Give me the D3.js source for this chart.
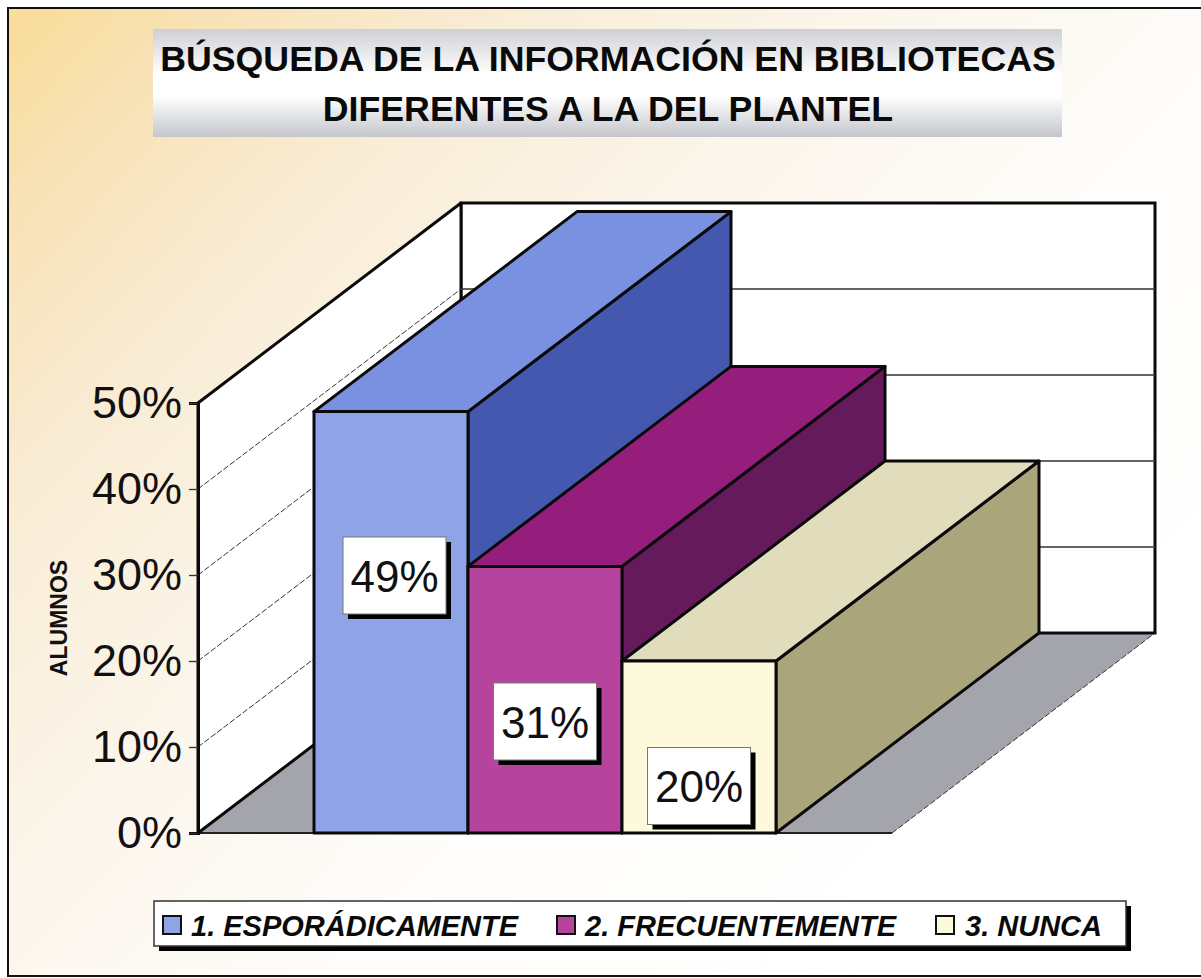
<!DOCTYPE html>
<html><head><meta charset="utf-8">
<script src="https://cdn.jsdelivr.net/npm/d3@7/dist/d3.min.js"></script>
<style>html,body{margin:0;padding:0;background:#fff}svg{display:block}text{font-family:"Liberation Sans",Arial,sans-serif}</style>
</head><body><svg id="c" width="1201" height="978"></svg>
<script>
const titleLines = ["BÚSQUEDA DE LA INFORMACIÓN EN BIBLIOTECAS","DIFERENTES A LA DEL PLANTEL"];
const categories = ["1. ESPORÁDICAMENTE","2. FRECUENTEMENTE","3. NUNCA"];
const values = [49,31,20];
const valueLabels = ["49%","31%","20%"];
const yTicks = [0,10,20,30,40,50];
const axisTitle = "ALUMNOS";
const frontColors = ["#8ea4e6","#b6449f","#fdf9dc"];
const topColors = ["#7a90e0","#951d7c","#e0dcbc"];
const sideColors = ["#4358ae","#651a5c","#aba57c"];

const svg = d3.select("#c");
const defs = svg.append("defs");
const bg = defs.append("linearGradient").attr("id","bg").attr("x1",0).attr("y1",0.05).attr("x2",0.9).attr("y2",0.75);
[[0,"#f8dd9e"],[0.08,"#f8e2b4"],[0.25,"#f8ecd4"],[0.45,"#fbf5ea"],[0.7,"#fefdfb"],[1,"#ffffff"]].forEach(s=>bg.append("stop").attr("offset",s[0]).attr("stop-color",s[1]));
const band = defs.append("linearGradient").attr("id","band").attr("x1",0).attr("y1",0).attr("x2",0).attr("y2",1);
[[0,"#cfd0d4"],[0.42,"#ffffff"],[0.62,"#ffffff"],[1,"#c4c6cc"]].forEach(s=>band.append("stop").attr("offset",s[0]).attr("stop-color",s[1]));
const ink = "#0a0a0a";

// frame (its right side runs off the photographed page)
svg.append("rect").attr("x",8).attr("y",8).attr("width",1210).attr("height",968).attr("fill","url(#bg)").attr("stroke","#111").attr("stroke-width",2);

// title
svg.append("rect").attr("x",153).attr("y",29).attr("width",909).attr("height",108).attr("fill","url(#band)");
svg.selectAll("text.title").data(titleLines).join("text").attr("class","title")
  .attr("x",608).attr("y",(d,i)=>71+i*50).attr("text-anchor","middle")
  .attr("font-size",35.7).attr("font-weight","bold").attr("fill",ink).text(d=>d);

// scales
const y = d3.scaleLinear().domain([0,50]).range([833,403]);
const x = d3.scaleBand().domain(categories).range([314,776]).padding(0);
const floorX = d3.scaleLinear().domain([0,1]).range([198,892]);
const dep = {x:263,y:-200};
const line = d3.line();
const poly = (pts,fill,sw=3)=>svg.append("path").attr("d",line(pts)+"Z").attr("fill",fill).attr("stroke",ink).attr("stroke-width",sw).attr("stroke-linejoin","round");
const L = floorX(0), R = floorX(1), Y0 = y(0), Y50 = y(50);

// floor
svg.append("path").attr("d",line([[L,Y0],[R,Y0],[R+dep.x,Y0+dep.y],[L+dep.x,Y0+dep.y]])+"Z").attr("fill","#a4a4ac");
svg.append("line").attr("x1",R).attr("y1",Y0).attr("x2",R+dep.x).attr("y2",Y0+dep.y).attr("stroke","#333").attr("stroke-width",1).attr("stroke-dasharray","6 2");
svg.append("line").attr("x1",L).attr("y1",Y0).attr("x2",R).attr("y2",Y0).attr("stroke","#222").attr("stroke-width",2);
// back wall
svg.append("path").attr("d",line([[L+dep.x,Y50+dep.y],[R+dep.x,Y50+dep.y],[R+dep.x,Y0+dep.y],[L+dep.x,Y0+dep.y]])+"Z").attr("fill","#fff").attr("stroke",ink).attr("stroke-width",3);
// side wall
poly([[L,Y0],[L,Y50],[L+dep.x,Y50+dep.y],[L+dep.x,Y0+dep.y]],"#fff",3);
// grid
yTicks.slice(1,-1).forEach(t=>{
  svg.append("line").attr("x1",L).attr("y1",y(t)).attr("x2",L+dep.x).attr("y2",y(t)+dep.y).attr("stroke","#333").attr("stroke-width",1).attr("stroke-dasharray","6 2");
  svg.append("line").attr("x1",L+dep.x).attr("y1",y(t)+dep.y).attr("x2",R+dep.x).attr("y2",y(t)+dep.y).attr("stroke","#333").attr("stroke-width",1.3);
});

// axis
const axis = d3.axisLeft(y).tickValues(yTicks).tickFormat(d=>d+"%").tickSize(9).tickPadding(7);
const ax = svg.append("g").attr("transform",`translate(${L},0)`).call(axis);
ax.select(".domain").attr("stroke",ink).attr("stroke-width",3);
ax.selectAll(".tick line").attr("stroke","#333").attr("stroke-width",1.3);
ax.selectAll("text").attr("font-size",45).attr("fill","#111").attr("font-family","Liberation Sans");
svg.append("text").attr("transform","translate(67,618) rotate(-90)").attr("text-anchor","middle")
  .attr("font-size",23).attr("font-weight","bold").attr("fill","#111").text(axisTitle);

// bars
categories.forEach((c,i)=>{
  const a = x(c), b = a + x.bandwidth(), t = y(values[i]), g = Y0;
  poly([[b,g],[b,t],[b+dep.x,t+dep.y],[b+dep.x,g+dep.y]],sideColors[i]);
  poly([[a,t],[b,t],[b+dep.x,t+dep.y],[a+dep.x,t+dep.y]],topColors[i]);
  poly([[a,g],[a,t],[b,t],[b,g]],frontColors[i]);
});

// value labels
const labelCX = [394.5,545,699];
const labelCY = [575.5,721.5,786];
categories.forEach((c,i)=>{
  const cx = labelCX[i], cy = labelCY[i], w = 103, h = 77;
  svg.append("rect").attr("x",cx-w/2+5).attr("y",cy-h/2+5).attr("width",w).attr("height",h).attr("fill","#000");
  svg.append("rect").attr("x",cx-w/2).attr("y",cy-h/2).attr("width",w).attr("height",h).attr("fill","#fff").attr("stroke","#777").attr("stroke-width",1);
  svg.append("text").attr("x",cx).attr("y",cy+16).attr("text-anchor","middle").attr("font-size",44).attr("fill","#111").text(valueLabels[i]);
});

// legend
svg.append("rect").attr("x",159).attr("y",906).attr("width",972).attr("height",45).attr("fill","#000");
svg.append("rect").attr("x",154).attr("y",901).attr("width",972).attr("height",45).attr("fill","#fff").attr("stroke","#333").attr("stroke-width",1.5);
const swatchX = [163,557,936];
const textX = [191,585,965];
categories.forEach((c,i)=>{
  svg.append("rect").attr("x",swatchX[i]).attr("y",916).attr("width",18).attr("height",18).attr("fill",frontColors[i]).attr("stroke","#111").attr("stroke-width",2);
  svg.append("text").attr("x",textX[i]).attr("y",936).attr("font-size",29).attr("font-weight","bold").attr("font-style","italic").attr("fill",ink).text(c);
});
</script></body></html>
